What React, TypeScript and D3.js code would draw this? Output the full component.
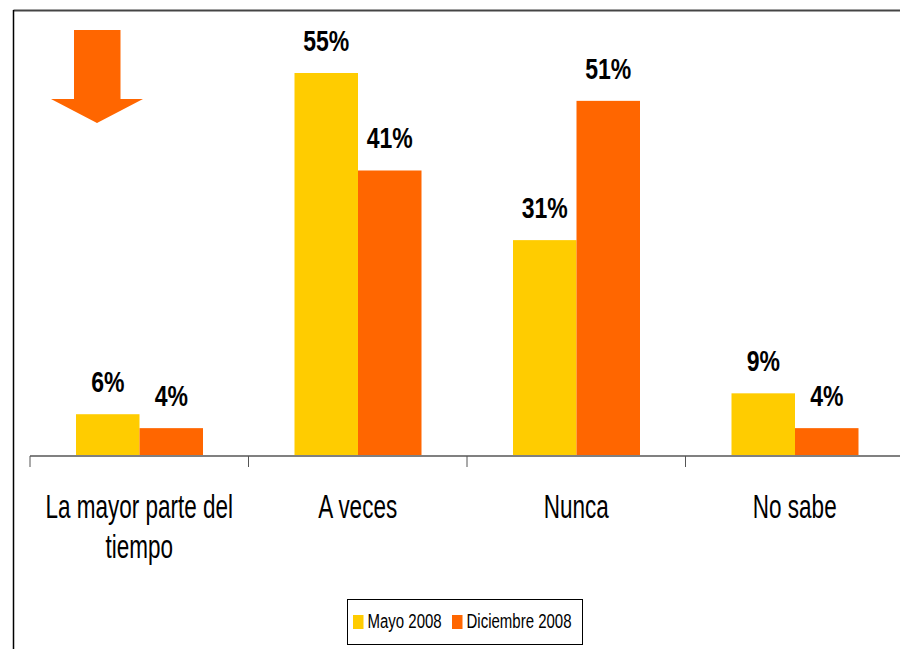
import React from "react";
import * as d3 from "d3";

// chart values
const categories = [["La mayor parte del", "tiempo"], ["A veces"], ["Nunca"], ["No sabe"]];
const seriesNames = ["Mayo 2008", "Diciembre 2008"];
const mayo = [6, 55, 31, 9];
const diciembre = [4, 41, 51, 4];
const colors = ["#FFCC00", "#FF6600"];

const W = 900;
const H = 649;
const baseY = 456;
const font = "'Liberation Sans', Arial, sans-serif";

const App = () => {
  const keys = categories.map((c, i) => String(i));
  const x0 = d3.scaleBand().domain(keys).range([30, 30 + 4 * 218.5]);
  const x1 = d3.scaleBand().domain(seriesNames).range([46, 173]);
  const y = d3.scaleLinear().domain([0, 55]).range([baseY, 73]);
  const values = [mayo, diciembre];

  return (
    <svg
      width={W}
      height={H}
      style={{ position: "absolute", left: 0, top: 0, display: "block" }}
    >
      <rect width={W} height={H} fill="#fff" />
      {/* outer frame, runs off the page right and below */}
      <line x1={13.5} x2={W} y1={10.5} y2={10.5} stroke="#444" strokeWidth={2} />
      <line x1={13.5} x2={13.5} y1={10} y2={H} stroke="#000" strokeWidth={1.5} />

      {/* arrow */}
      <path
        d="M74,30 L120.5,30 L120.5,99 L143,99 L97,123 L51,99 L74,99 Z"
        fill="#FF6600"
      />

      {/* bars */}
      {keys.map((k, i) => (
        <g key={k} transform={`translate(${x0(k)},0)`}>
          {seriesNames.map((s, j) => {
            const v = values[j][i];
            const bx = x1(s)!;
            const bw = x1.bandwidth();
            return (
              <g key={s}>
                <rect x={bx} y={y(v)} width={bw} height={baseY - y(v)} fill={colors[j]} />
                <text
                  transform={`translate(${bx + bw / 2},${y(v) - 22}) scale(1,1.26)`}
                  textAnchor="middle"
                  fontFamily={font}
                  fontWeight="bold"
                  fontSize={23}
                  fill="#000"
                >
                  {v}%
                </text>
              </g>
            );
          })}
        </g>
      ))}

      {/* axis */}
      <line x1={30} x2={W} y1={baseY} y2={baseY} stroke="#808080" strokeWidth={2} />
      {d3.range(5).map((i) => {
        const tx = 30 + i * x0.bandwidth();
        return (
          <line key={i} x1={tx} x2={tx} y1={baseY} y2={467} stroke="#555" strokeWidth={1} />
        );
      })}
      {keys.map((k, i) =>
        categories[i].map((line, li) => (
          <text
            key={k + li}
            transform={`translate(${x0(k)! + x0.bandwidth() / 2},${518 + li * 40}) scale(1,1.5)`}
            textAnchor="middle"
            fontFamily={font}
            fontSize={22.5}
            fill="#000"
          >
            {line}
          </text>
        ))
      )}

      {/* legend */}
      <rect x={347.5} y={599.5} width={235} height={45} fill="#fff" stroke="#000" strokeWidth={1} />
      {seriesNames.map((s, j) => {
        const lx = [353, 452][j];
        return (
          <g key={s}>
            <rect x={lx} y={615} width={10.5} height={14} fill={colors[j]} />
            <text
              transform={`translate(${lx + 14.5},${627.7}) scale(1,1.37)`}
              fontFamily={font}
              fontSize={15}
              fill="#000"
            >
              {s}
            </text>
          </g>
        );
      })}
    </svg>
  );
};

export default App;
